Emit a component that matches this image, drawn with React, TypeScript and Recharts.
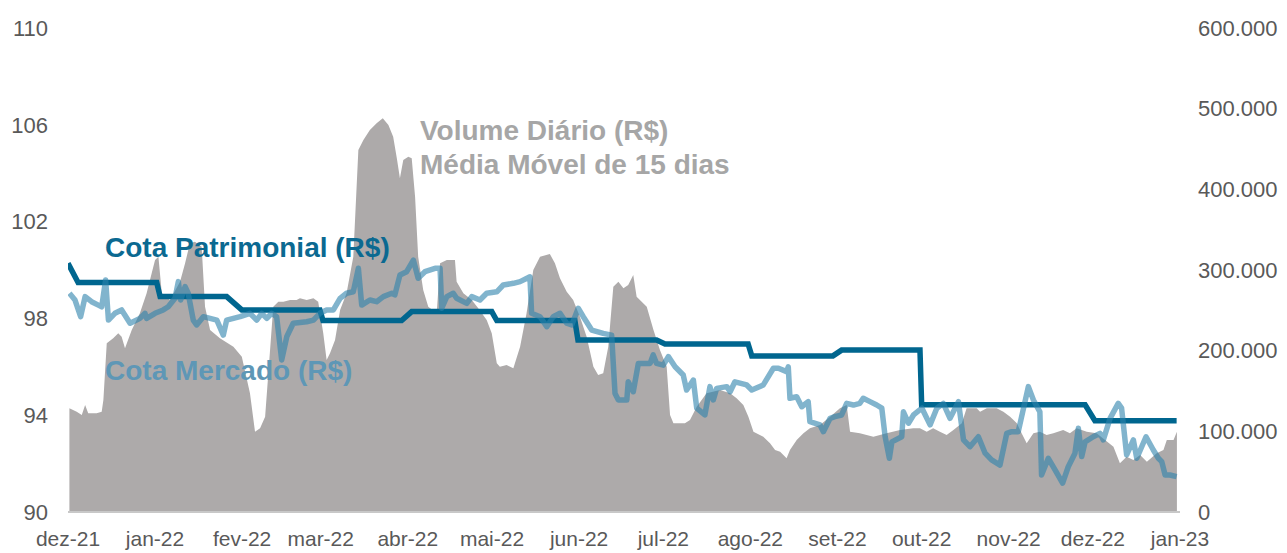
import React from 'react';
import { ComposedChart, Area, Line, XAxis, YAxis } from 'recharts';

// x = days since 01/12/2021
const monthTicks = [0, 31, 62, 90, 121, 151, 182, 212, 243, 274, 304, 335, 365, 396];
const monthLabels = ['dez-21', 'jan-22', 'fev-22', 'mar-22', 'abr-22', 'mai-22', 'jun-22', 'jul-22', 'ago-22', 'set-22', 'out-22', 'nov-22', 'dez-22', 'jan-23'];

const leftTicks = [90, 94, 98, 102, 106, 110];
const rightTicks = [0, 100, 200, 300, 400, 500, 600];

// Volume diário, média móvel 15 dias (R$ mil)
const volumeDays = [
  0.5, 3.1, 4.9, 6.1, 7.2, 10.2, 12.0, 12.6, 13.8, 16.1,
  17.9, 19.1, 20.3, 22.7, 25.6, 28.0, 29.8, 31.0, 32.2, 33.4,
  36.3, 39.9, 41.7, 43.4, 45.2, 47.6, 48.8, 50.6, 54.1, 58.9,
  61.9, 64.8, 66.6, 68.4, 70.2, 73.1, 74.9, 76.7, 79.1, 81.4,
  82.6, 85.0, 87.4, 89.1, 90.9, 92.1, 93.3, 95.1, 96.9, 99.2,
  101.6, 103.4, 105.2, 107.5, 109.9, 112.1, 114.1, 115.8, 117.1, 118.2,
  119.4, 121.2, 122.4, 123.6, 124.7, 126.5, 128.3, 131.3, 132.5, 134.9,
  137.8, 138.4, 140.8, 143.8, 146.1, 149.1, 150.9, 152.7, 153.8, 156.2,
  158.6, 161.0, 163.3, 165.7, 168.1, 171.6, 173.4, 175.2, 177.6, 179.9,
  182.3, 184.7, 187.1, 188.8, 190.6, 192.4, 194.2, 196.0, 197.8, 199.5,
  201.3, 202.5, 206.1, 208.5, 210.8, 213.2, 214.4, 215.6, 219.7, 221.5,
  223.9, 227.4, 232.2, 235.8, 238.1, 240.5, 242.3, 244.1, 247.6, 250.0,
  251.8, 253.6, 255.9, 257.1, 259.5, 261.9, 264.2, 267.8, 271.4, 274.9,
  277.3, 278.5, 282.0, 286.8, 291.5, 296.3, 301.0, 303.4, 305.8, 308.1,
  310.5, 312.9, 315.3, 318.3, 320.0, 323.6, 324.8, 327.2, 330.7, 333.1,
  335.5, 337.9, 339.6, 341.4, 343.8, 346.1, 348.5, 350.9, 354.4, 356.8,
  359.2, 362.8, 366.3, 369.3, 372.3, 374.6, 377.0, 379.4, 381.8, 384.2,
  387.7, 390.1, 391.3, 393.7, 394.9,
];
const volumeThousands = [
  128.6, 124.3, 120.3, 132.6, 122.4, 122.4, 124.3, 138.8, 209.1, 215.3,
  221.5, 217.3, 202.9, 225.6, 246.3, 271.1, 295.9, 312.4, 316.5, 271.1,
  262.8, 285.5, 308.3, 333.1, 335.1, 328.9, 254.5, 225.6, 215.3, 204.9,
  192.5, 147.1, 99.5, 103.8, 118.1, 254.5, 260.7, 260.7, 262.8, 262.8,
  264.9, 262.8, 264.9, 260.7, 221.5, 188.4, 196.7, 213.2, 250.4, 271.1,
  316.5, 448.8, 461.2, 473.6, 481.9, 488.1, 479.8, 465.3, 438.5, 413.7,
  436.4, 440.5, 438.5, 390.9, 316.5, 275.2, 254.5, 246.3, 308.3, 312.4,
  312.4, 285.5, 271.1, 262.8, 252.5, 238.0, 221.5, 184.3, 180.1, 182.2,
  178.1, 204.9, 246.3, 300.0, 316.5, 319.8, 308.3, 289.7, 273.1, 262.8,
  242.1, 217.3, 180.1, 169.8, 171.9, 204.9, 279.3, 285.5, 277.3, 281.4,
  293.8, 266.9, 254.5, 225.6, 200.8, 180.1, 120.3, 110.0, 110.0, 114.1,
  130.5, 147.1, 151.2, 147.1, 141.0, 132.6, 118.1, 99.5, 93.4, 85.2,
  76.9, 74.8, 66.6, 76.9, 89.3, 97.6, 103.8, 107.9, 118.1, 128.6,
  132.6, 99.5, 97.6, 93.4, 97.6, 101.7, 103.8, 103.8, 99.5, 103.8,
  99.5, 95.5, 101.7, 110.0, 128.6, 128.6, 124.3, 128.6, 128.6, 124.3,
  118.1, 110.0, 97.6, 85.2, 97.6, 99.5, 95.5, 97.6, 101.7, 97.6,
  103.8, 99.5, 97.6, 89.3, 81.0, 60.4, 68.6, 64.5, 70.7, 62.4,
  72.8, 76.9, 89.3, 89.3, 99.5,
];

// Cota Patrimonial (R$)
const patrimonialDays = [0, 3.6, 31.6, 32.8, 56.5, 61.9, 89.7, 90.8, 118.8, 122.4, 150.9, 152.7, 180.5, 181.6, 209.6, 212.6, 242.2, 243.5, 272.4, 275.5, 303.4, 304, 362.2, 365.7, 394.8];
const patrimonialValues = [100.28, 99.48, 99.48, 98.9, 98.9, 98.35, 98.35, 97.91, 97.91, 98.28, 98.28, 97.91, 97.91, 97.11, 97.11, 96.94, 96.94, 96.45, 96.45, 96.69, 96.69, 94.43, 94.43, 93.77, 93.77];

// Cota Mercado (R$)
const mercadoDays = [
  0.5, 2.5, 4.5, 6.1, 8.4, 10.8, 12.0, 13.4, 14.4, 16.7,
  19.1, 22.1, 25.6, 27.4, 28.0, 31.0, 33.9, 35.7, 38.1, 39.3,
  40.1, 41.7, 42.8, 44.6, 45.8, 48.2, 53.0, 55.3, 56.5, 61.3,
  64.8, 67.2, 69.0, 70.8, 72.5, 74.3, 76.1, 77.9, 80.2, 85.0,
  87.4, 89.7, 92.1, 94.5, 96.9, 99.2, 101.6, 103.4, 104.6, 107.5,
  109.9, 112.3, 115.3, 116.4, 118.2, 120.6, 123.0, 124.7, 127.1, 130.7,
  132.5, 133.1, 134.9, 137.2, 138.4, 142.0, 143.8, 146.7, 149.1, 152.7,
  155.0, 158.6, 161.0, 164.5, 165.1, 168.1, 170.5, 172.8, 175.2, 177.6,
  179.4, 181.7, 183.5, 186.5, 190.6, 193.6, 194.8, 196.0, 199.0, 199.5,
  201.3, 203.1, 207.3, 208.4, 209.6, 212.0, 213.8, 216.2, 219.1, 220.3,
  222.7, 223.9, 226.8, 228.6, 229.8, 231.0, 234.6, 235.8, 237.5, 241.7,
  243.5, 247.6, 251.2, 253.0, 255.9, 256.5, 257.1, 259.5, 261.3, 263.6,
  264.2, 267.8, 269.0, 271.4, 273.1, 275.5, 277.3, 279.7, 282.0, 283.2,
  285.6, 288.0, 289.8, 291.0, 292.5, 293.4, 296.9, 297.5, 299.3, 301.1,
  304.1, 307.0, 309.4, 311.7, 314.1, 317.1, 318.9, 321.2, 324.2, 326.6,
  328.9, 331.9, 334.3, 336.1, 338.4, 342.0, 343.8, 346.1, 346.7, 349.1,
  351.5, 354.2, 356.2, 358.6, 359.8, 361.0, 362.2, 365.1, 367.5, 368.7,
  371.1, 374.0, 375.2, 377.0, 379.4, 380.6, 383.9, 386.5, 388.3, 389.5,
  390.7, 392.4, 394.8,
];
const mercadoValues = [
  99.04, 98.76, 98.07, 98.9, 98.69, 98.55, 98.48, 99.59, 97.93, 98.21,
  98.35, 97.8, 98.0, 98.21, 98.0, 98.21, 98.35, 98.48, 98.83, 99.52,
  98.76, 99.31, 99.04, 97.93, 97.73, 98.07, 97.93, 97.31, 97.93, 98.07,
  98.21, 97.93, 98.21, 98.0, 98.21, 98.07, 96.28, 97.24, 97.8, 97.86,
  97.93, 98.21, 98.35, 98.35, 98.83, 99.04, 99.1, 100.07, 98.55, 98.76,
  98.69, 98.9, 99.04, 98.97, 99.79, 99.93, 100.41, 99.66, 99.93, 100.07,
  100.07, 98.42, 98.9, 99.04, 98.83, 98.62, 98.9, 98.76, 99.04, 99.1,
  99.38, 99.45, 99.52, 99.72, 98.21, 98.07, 97.66, 98.07, 98.21, 97.8,
  97.73, 98.42, 98.07, 97.52, 97.38, 97.31, 94.9, 94.63, 94.63, 95.38,
  94.97, 96.14, 96.14, 96.49, 96.14, 96.07, 96.42, 96.0, 95.66, 95.04,
  95.45, 94.29, 94.01, 95.18, 94.63, 95.11, 95.18, 94.97, 95.38, 95.25,
  95.04, 95.25, 95.94, 95.94, 95.8, 96.0, 94.7, 94.76, 94.35, 94.56,
  93.73, 93.6, 93.32, 93.87, 93.94, 94.01, 94.49, 94.42, 94.49, 94.7,
  94.56, 94.42, 94.29, 93.11, 92.22, 92.9, 93.11, 94.14, 93.67, 94.01,
  94.29, 93.6, 94.29, 94.49, 93.87, 94.56, 92.98, 92.7, 93.11, 92.43,
  92.15, 91.94, 93.25, 93.32, 93.32, 95.18, 94.63, 94.14, 91.53, 92.22,
  91.74, 91.19, 91.87, 92.43, 93.46, 92.29, 92.9, 93.11, 93.25, 92.98,
  93.87, 94.49, 94.29, 92.36, 92.98, 92.22, 93.11, 92.56, 92.22, 92.08,
  91.53, 91.53, 91.46,
];

const volumeData = volumeDays.map((day, i) => ({ day, vol: volumeThousands[i] }));
const patrimonialData = patrimonialDays.map((day, i) => ({ day, cota: patrimonialValues[i] }));
const mercadoData = mercadoDays.map((day, i) => ({ day, cota: mercadoValues[i] }));

const W = 1287;
const H = 553;
const FONT = '"Liberation Sans", Arial, sans-serif';

const fmtMonth = (v: number) => monthLabels[monthTicks.indexOf(v)] ?? '';
const fmtVolume = (v: number) => (v === 0 ? '0' : `${v}.000`);

export default function App() {
  return (
    <div style={{ position: 'absolute', left: 0, top: 0, width: W, height: H, fontFamily: FONT, background: '#fff' }}>
      <ComposedChart width={W} height={H} margin={{ top: 28, right: 0, bottom: 0, left: 0 }}>
        <XAxis
          dataKey="day"
          type="number"
          domain={[0, 396]}
          ticks={monthTicks}
          tickFormatter={fmtMonth}
          interval={0}
          height={41}
          tickLine={false}
          tickMargin={13}
          axisLine={{ stroke: '#C8C8C8', strokeWidth: 2 }}
          tick={{ fill: '#595959', fontSize: 21 }}
          allowDataOverflow
        />
        <YAxis
          yAxisId="left"
          domain={[90, 110]}
          ticks={leftTicks}
          width={68}
          axisLine={false}
          tickLine={false}
          tickMargin={14}
          tick={{ fill: '#595959', fontSize: 22 }}
          allowDataOverflow
        />
        <YAxis
          yAxisId="right"
          orientation="right"
          domain={[0, 600]}
          ticks={rightTicks}
          tickFormatter={fmtVolume}
          width={107}
          axisLine={false}
          tickLine={false}
          tickMargin={12}
          tick={{ fill: '#595959', fontSize: 22 }}
        />
        <Area
          yAxisId="right"
          data={volumeData}
          dataKey="vol"
          type="linear"
          stroke="none"
          fill="#ADAAAA"
          fillOpacity={1}
          isAnimationActive={false}
        />
        <Line
          yAxisId="left"
          data={patrimonialData}
          dataKey="cota"
          type="linear"
          stroke="#00668F"
          strokeWidth={5.5}
          dot={false}
          isAnimationActive={false}
        />
        <Line
          yAxisId="left"
          data={mercadoData}
          dataKey="cota"
          type="linear"
          stroke="#2D82AB"
          strokeOpacity={0.6}
          strokeWidth={5.5}
          strokeLinejoin="round"
          dot={false}
          isAnimationActive={false}
        />
      </ComposedChart>
      <svg width={W} height={H} style={{ position: 'absolute', left: 0, top: 0, pointerEvents: 'none' }}>
        <g fontFamily={FONT} fontWeight="bold" fontSize={28}>
          <text x={420} y={140} fill="#A6A6A6">Volume Diário (R$)</text>
          <text x={420} y={174} fill="#A6A6A6">Média Móvel de 15 dias</text>
          <text x={105} y={257} fill="#0B6991">Cota Patrimonial (R$)</text>
          <text x={105} y={380} fill="#5E97B6">Cota Mercado (R$)</text>
        </g>
      </svg>
    </div>
  );
}
